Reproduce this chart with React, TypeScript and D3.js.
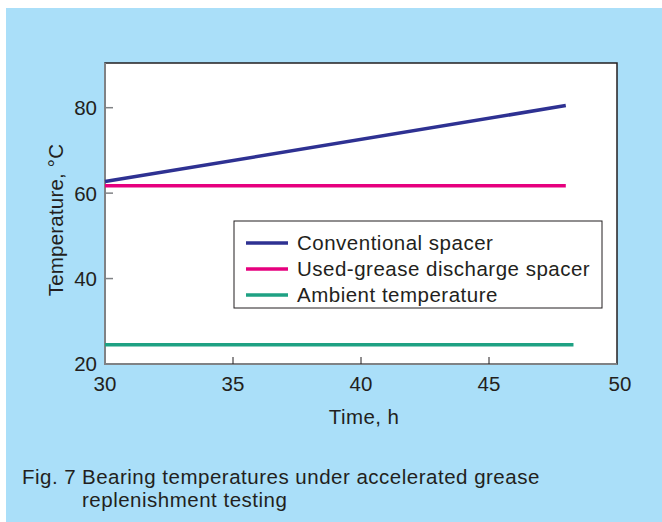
import React, { useRef, useEffect } from 'react';
import * as d3 from 'd3';

// Data
const seriesNames = ['Conventional spacer', 'Used-grease discharge spacer', 'Ambient temperature'];
const seriesColors = ['#2e3192', '#e6007e', '#1ea183'];
const conventional = [{ t: 30, v: 62.7 }, { t: 48, v: 80.5 }];
const discharge = [{ t: 30, v: 61.7 }, { t: 48, v: 61.7 }];
const ambient = [{ t: 30, v: 24.5 }, { t: 48.3, v: 24.5 }];
const xTicks = [30, 35, 40, 45, 50];
const yTicks = [20, 40, 60, 80];

const W = 662;
const H = 522;
const FONT = '"Liberation Sans", Arial, Helvetica, sans-serif';

const App: React.FC = () => {
  const ref = useRef<SVGSVGElement | null>(null);

  useEffect(() => {
    if (!ref.current) return;
    const svg = d3.select(ref.current);
    svg.selectAll('*').remove();

    const left = 105, right = 617, top = 63, bottom = 364;
    const x = d3.scaleLinear().domain([30, 50]).range([left, right]);
    const y = d3.scaleLinear().domain([20, 80]).range([bottom, 107.7]);

    // Background panel
    svg.append('rect')
      .attr('x', 6).attr('y', 8)
      .attr('width', W - 6).attr('height', H - 8)
      .attr('fill', '#aadff9');

    // Plot area
    svg.append('rect')
      .attr('x', left).attr('y', top)
      .attr('width', right - left).attr('height', bottom - top)
      .attr('fill', '#fff')
      .attr('stroke', '#231f20')
      .attr('stroke-width', 1.5);

    // Left & bottom axes (gray)
    svg.append('line')
      .attr('x1', left).attr('x2', left).attr('y1', top).attr('y2', bottom + 1)
      .attr('stroke', '#808285').attr('stroke-width', 2);
    svg.append('line')
      .attr('x1', left - 1).attr('x2', right).attr('y1', bottom).attr('y2', bottom)
      .attr('stroke', '#808285').attr('stroke-width', 2);

    // Y ticks
    yTicks.forEach(v => {
      if (v !== 20) {
        svg.append('line')
          .attr('x1', left).attr('x2', left + 8)
          .attr('y1', y(v)).attr('y2', y(v))
          .attr('stroke', '#808285').attr('stroke-width', 1.5);
      }
      svg.append('text')
        .attr('x', left - 8).attr('y', y(v))
        .attr('dy', '0.36em')
        .attr('text-anchor', 'end')
        .attr('font-family', FONT).attr('font-size', 20.5)
        .attr('fill', '#231f20')
        .text(v);
    });

    // X ticks
    xTicks.forEach(t => {
      if (t !== 30 && t !== 50) {
        svg.append('line')
          .attr('x1', x(t)).attr('x2', x(t))
          .attr('y1', bottom).attr('y2', bottom - 7)
          .attr('stroke', '#231f20').attr('stroke-width', 1);
      }
      svg.append('text')
        .attr('x', x(t) + (t === 50 ? 3 : 0)).attr('y', 391)
        .attr('text-anchor', 'middle')
        .attr('font-family', FONT).attr('font-size', 20.5)
        .attr('fill', '#231f20')
        .text(t);
    });

    // Axis titles
    svg.append('text')
      .attr('x', (left + right) / 2 + 3).attr('y', 424)
      .attr('text-anchor', 'middle')
      .attr('font-family', FONT).attr('font-size', 20.5)
      .attr('letter-spacing', 0.4)
      .attr('fill', '#231f20')
      .text('Time, h');

    svg.append('text')
      .attr('transform', `translate(63,220) rotate(-90)`)
      .attr('text-anchor', 'middle')
      .attr('font-family', FONT).attr('font-size', 20.5)
      .attr('letter-spacing', 0.2)
      .attr('fill', '#231f20')
      .text('Temperature, °C');

    // Series lines
    const line = d3.line<{ t: number; v: number }>()
      .x(d => x(d.t))
      .y(d => y(d.v));

    [conventional, discharge, ambient].forEach((data, i) => {
      svg.append('path')
        .datum(data)
        .attr('d', line)
        .attr('fill', 'none')
        .attr('stroke', seriesColors[i])
        .attr('stroke-width', 3.5);
    });

    // Legend
    const lg = svg.append('g');
    lg.append('rect')
      .attr('x', 234).attr('y', 221)
      .attr('width', 368).attr('height', 87)
      .attr('fill', '#fff')
      .attr('stroke', '#231f20').attr('stroke-width', 1);

    seriesNames.forEach((name, i) => {
      const ly = 243 + i * 26;
      lg.append('line')
        .attr('x1', 246).attr('x2', 288)
        .attr('y1', ly).attr('y2', ly)
        .attr('stroke', seriesColors[i]).attr('stroke-width', 3.5);
      lg.append('text')
        .attr('x', 297).attr('y', ly)
        .attr('dy', '0.36em')
        .attr('font-family', FONT).attr('font-size', 20.5)
        .attr('letter-spacing', 0.5)
        .attr('fill', '#231f20')
        .text(name);
    });

    // Caption
    const cap = svg.append('text')
      .attr('font-family', FONT).attr('font-size', 20.5)
      .attr('letter-spacing', 0.5)
      .attr('fill', '#231f20');
    cap.append('tspan').attr('x', 22).attr('y', 484).text('Fig. 7');
    cap.append('tspan').attr('x', 82).attr('y', 484).text('Bearing temperatures under accelerated grease');
    cap.append('tspan').attr('x', 82).attr('y', 507).text('replenishment testing');
  }, []);

  return (
    <svg
      ref={ref}
      width={W}
      height={H}
      style={{ position: 'absolute', left: 0, top: 0 }}
    />
  );
};

export default App;
